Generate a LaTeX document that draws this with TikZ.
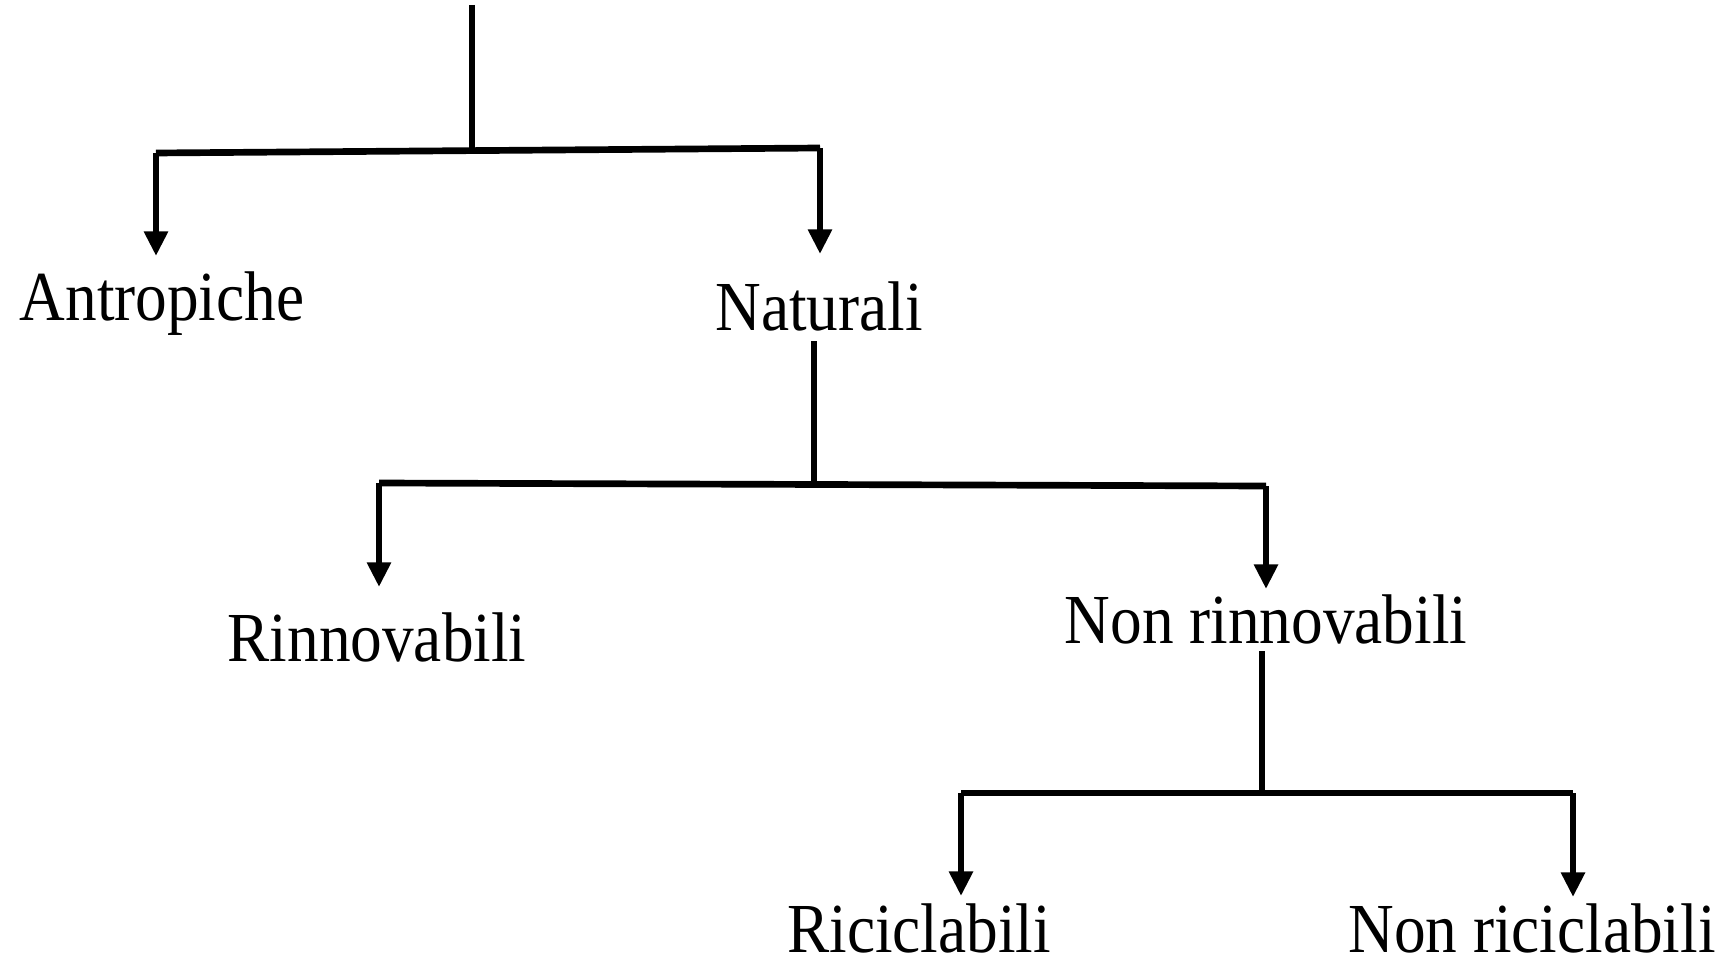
\documentclass[tikz,border=0pt]{standalone}
\usepackage{fontspec}
\setmainfont{Liberation Serif}[FakeStretch=0.9]
\usetikzlibrary{arrows.meta}

\tikzset{
    branch/.style={line width=1.9pt},
    down/.style={line width=1.9pt, -{Triangle[length=7pt,width=6.5pt]}},
    label/.style={anchor=base, font=\fontsize{20}{24}\selectfont}
}

\begin{document}
\begin{tikzpicture}
    \useasboundingbox (0,0) rectangle (17.36,-9.59);
    % first level
    \coordinate (T0) at (4.72,-0.05);
    \coordinate (J1) at (4.72,-1.51);
    \coordinate (L1) at (1.56,-1.53);
    \coordinate (R1) at (8.20,-1.48);
    \coordinate (A1) at (1.56,-2.56);
    \coordinate (A2) at (8.20,-2.54);
    \node[label] (antr) at (1.62,-3.21) {Antropiche};
    \node[label] (natu) at (8.19,-3.30) {Naturali};
    \draw[branch] (T0) -- (J1);
    \draw[branch] (L1) -- (R1);
    \draw[down] (L1) -- (A1);
    \draw[down] (R1) -- (A2);
    % second level
    \coordinate (T1) at (8.14,-3.41);
    \coordinate (J2) at (8.14,-4.84);
    \coordinate (L2) at (3.79,-4.83);
    \coordinate (R2) at (12.66,-4.86);
    \coordinate (A3) at (3.79,-5.87);
    \coordinate (A4) at (12.66,-5.89);
    \node[label] (rinn) at (3.77,-6.61) {Rinnovabili};
    \node[label] (nonr) at (12.66,-6.43) {Non rinnovabili};
    \draw[branch] (T1) -- (J2);
    \draw[branch] (L2) -- (R2);
    \draw[down] (L2) -- (A3);
    \draw[down] (R2) -- (A4);
    % third level
    \coordinate (T2) at (12.62,-6.51);
    \coordinate (J3) at (12.62,-7.93);
    \coordinate (L3) at (9.61,-7.93);
    \coordinate (R3) at (15.73,-7.93);
    \coordinate (A5) at (9.61,-8.96);
    \coordinate (A6) at (15.73,-8.97);
    \node[label] (ricl) at (9.19,-9.52) {Riciclabili};
    \node[label] (nonc) at (15.32,-9.52) {Non riciclabili};
    \draw[branch] (T2) -- (J3);
    \draw[branch] (L3) -- (R3);
    \draw[down] (L3) -- (A5);
    \draw[down] (R3) -- (A6);
\end{tikzpicture}
\end{document}
